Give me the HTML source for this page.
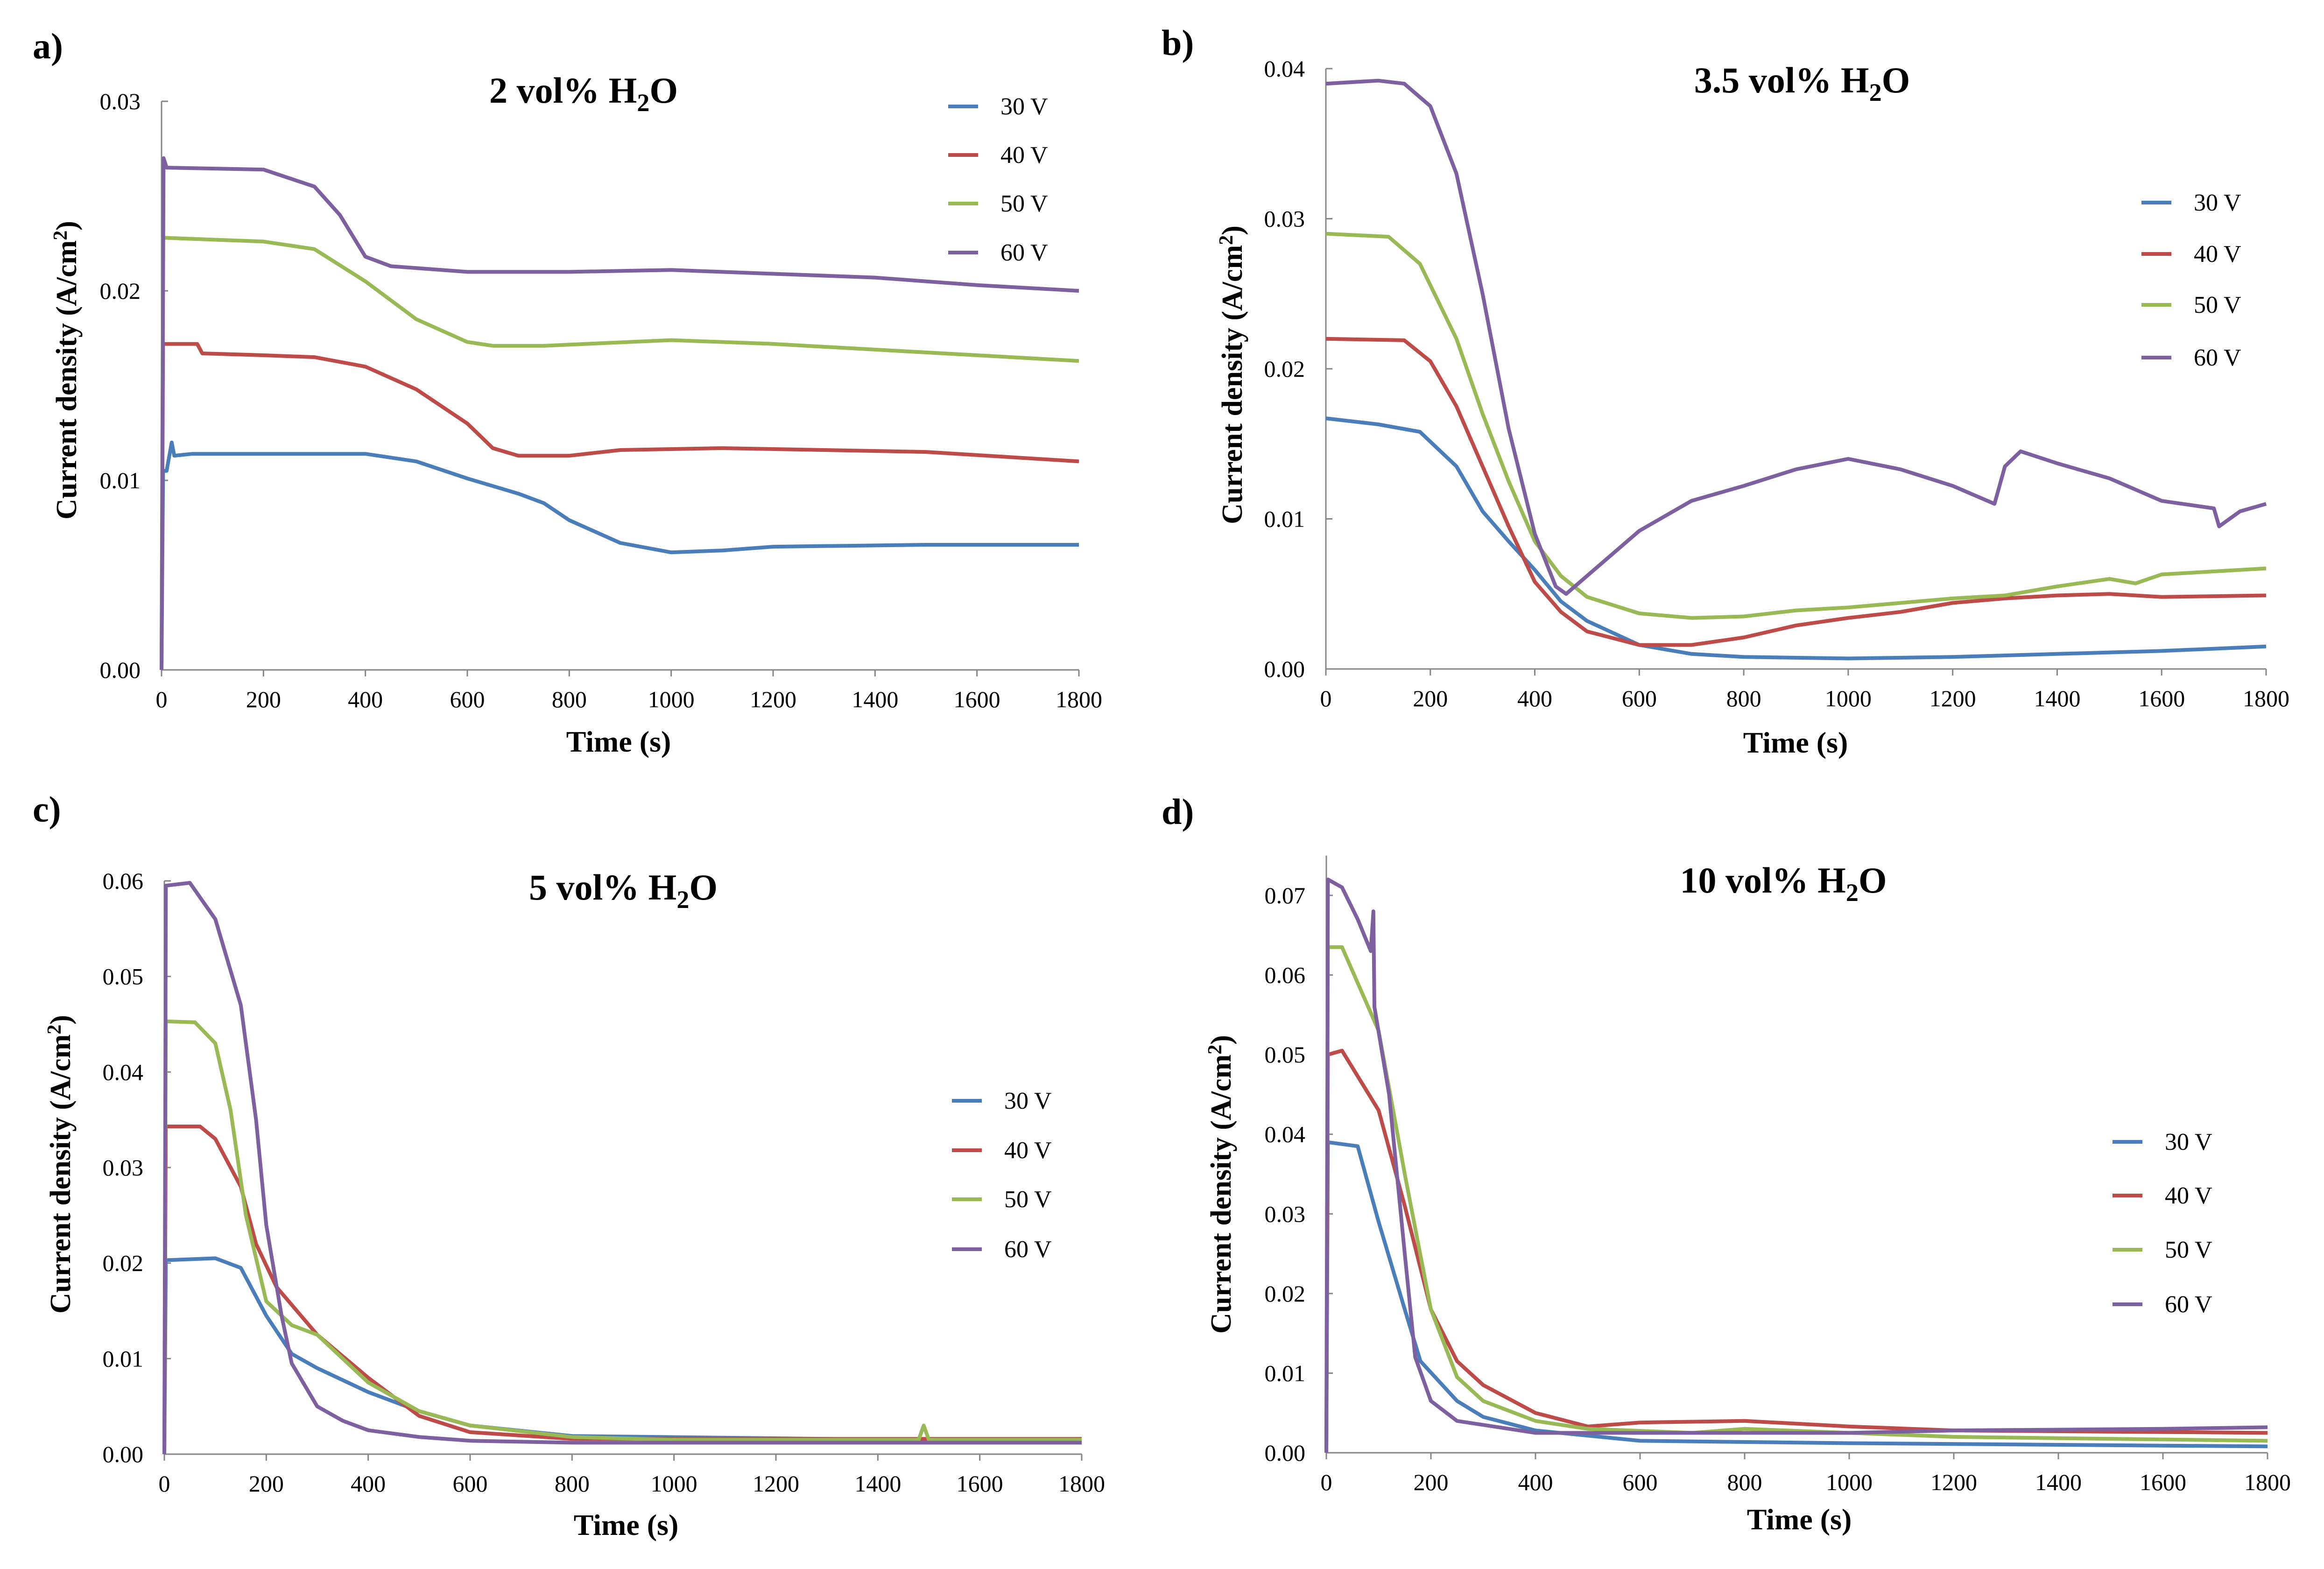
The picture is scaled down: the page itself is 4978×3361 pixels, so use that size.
<!DOCTYPE html>
<html><head><meta charset="utf-8"><style>
html,body{margin:0;padding:0;background:#fff}
svg{display:block}
text{font-family:"Liberation Serif","Times New Roman",serif;fill:#000}
</style></head><body>
<svg id="fig" width="4978" height="3361" viewBox="0 0 4978 3361" xmlns="http://www.w3.org/2000/svg"></svg>
<script>
// ---------- data (time in s, current density in A/cm2) ----------
const seriesNames = ["30 V","40 V","50 V","60 V"];
const seriesColors = ["#4a7ebb","#be4b48","#98b954","#7d60a0"];
const xTicks = [0,200,400,600,800,1000,1200,1400,1600,1800];

// panel a: 2 vol% H2O
const a30t = [0,3,10,20,25,60,200,400,500,600,700,750,800,900,1000,1100,1200,1500,1800];
const a30v = [0,0.0105,0.0105,0.012,0.0113,0.0114,0.0114,0.0114,0.011,0.0101,0.0093,0.0088,0.0079,0.0067,0.0062,0.0063,0.0065,0.0066,0.0066];
const a40t = [0,3,70,80,200,300,400,500,600,650,700,800,900,1100,1300,1500,1800];
const a40v = [0,0.0172,0.0172,0.0167,0.0166,0.0165,0.016,0.0148,0.013,0.0117,0.0113,0.0113,0.0116,0.0117,0.0116,0.0115,0.011];
const a50t = [0,3,200,300,400,500,600,650,750,1000,1200,1400,1600,1800];
const a50v = [0,0.0228,0.0226,0.0222,0.0205,0.0185,0.0173,0.0171,0.0171,0.0174,0.0172,0.0169,0.0166,0.0163];
const a60t = [0,4,10,200,300,350,400,450,600,800,1000,1200,1400,1600,1800];
const a60v = [0,0.027,0.0265,0.0264,0.0255,0.024,0.0218,0.0213,0.021,0.021,0.0211,0.0209,0.0207,0.0203,0.020];

// panel b: 3.5 vol% H2O
const b30t = [0,100,180,250,300,350,400,450,500,600,700,800,1000,1200,1400,1600,1800];
const b30v = [0.0167,0.0163,0.0158,0.0135,0.0105,0.0085,0.0066,0.0045,0.0032,0.0016,0.001,0.0008,0.0007,0.0008,0.001,0.0012,0.0015];
const b40t = [0,150,200,250,300,350,400,450,500,600,700,800,900,1000,1100,1200,1300,1400,1500,1600,1800];
const b40v = [0.022,0.0219,0.0205,0.0175,0.0135,0.0095,0.0058,0.0038,0.0025,0.0016,0.0016,0.0021,0.0029,0.0034,0.0038,0.0044,0.0047,0.0049,0.005,0.0048,0.0049];
const b50t = [0,120,180,250,300,350,400,450,500,600,700,800,900,1000,1200,1300,1400,1500,1550,1600,1800];
const b50v = [0.029,0.0288,0.027,0.022,0.017,0.0125,0.0085,0.0062,0.0048,0.0037,0.0034,0.0035,0.0039,0.0041,0.0047,0.0049,0.0055,0.006,0.0057,0.0063,0.0067];
const b60t = [0,100,150,200,250,300,350,400,440,460,500,600,700,800,900,1000,1100,1200,1280,1300,1330,1400,1500,1600,1700,1710,1750,1800];
const b60v = [0.039,0.0392,0.039,0.0375,0.033,0.025,0.016,0.009,0.0055,0.005,0.0062,0.0092,0.0112,0.0122,0.0133,0.014,0.0133,0.0122,0.011,0.0135,0.0145,0.0137,0.0127,0.0112,0.0107,0.0095,0.0105,0.011];

// panel c: 5 vol% H2O
const c30t = [0,3,100,150,200,250,300,400,500,600,800,1800];
const c30v = [0,0.0203,0.0205,0.0195,0.0145,0.0105,0.009,0.0065,0.0045,0.003,0.0019,0.0013];
const c40t = [0,3,70,100,150,180,220,300,400,500,600,800,1800];
const c40v = [0,0.0343,0.0343,0.033,0.028,0.022,0.0175,0.0125,0.008,0.004,0.0023,0.0016,0.0016];
const c50t = [0,3,60,100,130,160,200,250,300,400,500,600,800,1000,1480,1490,1500,1800];
const c50v = [0,0.0453,0.0452,0.043,0.036,0.025,0.016,0.0135,0.0125,0.0075,0.0045,0.003,0.0018,0.0015,0.0015,0.003,0.0015,0.0015];
const c60t = [0,3,50,100,150,180,200,230,250,300,350,400,500,600,800,1800];
const c60v = [0,0.0595,0.0598,0.056,0.047,0.035,0.024,0.0145,0.0095,0.005,0.0035,0.0025,0.0018,0.0014,0.0012,0.0012];

// panel d: 10 vol% H2O
const d30t = [0,3,60,100,150,180,250,300,400,600,1000,1800];
const d30v = [0,0.039,0.0385,0.029,0.018,0.0115,0.0065,0.0045,0.0028,0.0015,0.0012,0.0008];
const d40t = [0,3,30,100,150,200,250,300,400,500,600,800,1000,1200,1800];
const d40v = [0,0.05,0.0505,0.043,0.031,0.018,0.0115,0.0085,0.005,0.0033,0.0038,0.004,0.0033,0.0028,0.0025];
const d50t = [0,3,30,100,150,200,250,300,400,500,700,800,1000,1200,1800];
const d50v = [0,0.0635,0.0635,0.053,0.035,0.018,0.0095,0.0065,0.004,0.003,0.0025,0.003,0.0025,0.002,0.0015];
const d60t = [0,3,30,60,85,90,92,120,150,170,200,250,300,400,600,1000,1200,1600,1800];
const d60v = [0,0.072,0.071,0.067,0.063,0.068,0.056,0.045,0.025,0.012,0.0065,0.004,0.0035,0.0025,0.0025,0.0025,0.0028,0.003,0.0032];

// ---------- layout ----------
const panels = [
 {id:"a",label:"a)",lx:70,ly:125,title:"2 vol% H",tx:1250,ty:220,x0:346,x1:2311,yb:1435,yt:217,ymax:0.03,ytop:0.03,yTicks:[0,0.01,0.02,0.03],yf:2,
  legX:2031,legY:[228,332,436,541],xt:1325,xty:1610,yx:143,yy:793,
  data:[[a30t,a30v],[a40t,a40v],[a50t,a50v],[a60t,a60v]]},
 {id:"b",label:"b)",lx:2488,ly:118,title:"3.5 vol% H",tx:3860,ty:198,x0:2840,x1:4854,yb:1433,yt:147,ymax:0.04,ytop:0.04,yTicks:[0,0.01,0.02,0.03,0.04],yf:2,
  legX:4587,legY:[434,544,653,766],xt:3846,xty:1612,yx:2640,yy:803,
  data:[[b30t,b30v],[b40t,b40v],[b50t,b50v],[b60t,b60v]]},
 {id:"c",label:"c)",lx:70,ly:1760,title:"5 vol% H",tx:1335,ty:1927,x0:352,x1:2317,yb:3115,yt:1887,ymax:0.06,ytop:0.06,yTicks:[0,0.01,0.02,0.03,0.04,0.05,0.06],yf:2,
  legX:2039,legY:[2358,2464,2569,2676],xt:1341,xty:3288,yx:130,yy:2494,
  data:[[c30t,c30v],[c40t,c40v],[c50t,c50v],[c60t,c60v]]},
 {id:"d",label:"d)",lx:2488,ly:1765,title:"10 vol% H",tx:3820,ty:1912,x0:2841,x1:4857,yb:3112,yt:1918,ymax:0.07,ytop:0.075,yTicks:[0,0.01,0.02,0.03,0.04,0.05,0.06,0.07],yf:2,
  legX:4525,legY:[2446,2561,2677,2794],xt:3854,xty:3276,yx:2616,yy:2537,
  data:[[d30t,d30v],[d40t,d40v],[d50t,d50v],[d60t,d60v]]}
];

const NS="http://www.w3.org/2000/svg";
const svg=document.getElementById("fig");
function mk(tag,parent){const e=document.createElementNS(NS,tag);parent.appendChild(e);return e;}

panels.forEach(p=>{
  const g=mk("g",svg);
  
  
  const sx=t=>p.x0+(t/1800)*(p.x1-p.x0);
  const sy=v=>p.yb-(v/p.ymax)*(p.yb-p.yt);
  let t=mk("text",g);
  
  
  t.setAttribute("x",p.lx);t.setAttribute("y",p.ly);t.setAttribute("font-size","78");t.setAttribute("font-weight","bold");
  t.textContent=p.label;
  t=mk("text",g);
  
  
  t.setAttribute("x",p.tx);t.setAttribute("y",p.ty);t.setAttribute("font-size","78");t.setAttribute("font-weight","bold");t.setAttribute("text-anchor","middle");
  t.innerHTML=p.title+'<tspan dy="18" font-size="54">2</tspan><tspan dy="-18">O</tspan>';
  const ax=mk("path",g);
  
  
  const ytopPx=p.yb-(p.ytop/p.ymax)*(p.yb-p.yt);
  ax.setAttribute("d",`M${p.x0},${ytopPx}V${p.yb}H${p.x1}`);
  ax.setAttribute("stroke","#868686");ax.setAttribute("stroke-width","3");ax.setAttribute("fill","none");
  p.yTicks.forEach(v=>{
    const tk=mk("line",g);
    
    
    tk.setAttribute("x1",p.x0);tk.setAttribute("x2",p.x0+14);tk.setAttribute("y1",sy(v));tk.setAttribute("y2",sy(v));
    tk.setAttribute("stroke","#868686");tk.setAttribute("stroke-width","3");
    const lb=mk("text",g);
    
    
    lb.setAttribute("x",p.x0-45);lb.setAttribute("y",sy(v)+17);lb.setAttribute("font-size","50");lb.setAttribute("text-anchor","end");
    lb.textContent=v.toFixed(p.yf);
  });
  xTicks.forEach(v=>{
    const tk=mk("line",g);
    
    
    tk.setAttribute("x1",sx(v));tk.setAttribute("x2",sx(v));tk.setAttribute("y1",p.yb);tk.setAttribute("y2",p.yb+14);
    tk.setAttribute("stroke","#868686");tk.setAttribute("stroke-width","3");
    const lb=mk("text",g);
    
    
    lb.setAttribute("x",sx(v));lb.setAttribute("y",p.yb+80);lb.setAttribute("font-size","50");lb.setAttribute("text-anchor","middle");
    lb.textContent=v;
  });
  t=mk("text",g);
  
  
  t.setAttribute("x",p.xt);t.setAttribute("y",p.xty);t.setAttribute("font-size","64");t.setAttribute("font-weight","bold");t.setAttribute("text-anchor","middle");
  t.textContent="Time (s)";
  t=mk("text",g);
  
  
  t.setAttribute("x",0);t.setAttribute("y",0);t.setAttribute("font-size","62");t.setAttribute("font-weight","bold");t.setAttribute("text-anchor","middle");
  t.setAttribute("transform",`translate(${p.yx+20},${p.yy}) rotate(-90)`);
  t.innerHTML='Current density (A/cm<tspan dy="-20" font-size="42">2</tspan><tspan dy="20">)</tspan>';
  p.data.forEach((d,i)=>{
    const [ts,vs]=d;
    const pl=mk("polyline",g);
    
    
    pl.setAttribute("points",ts.map((tt,k)=>sx(tt).toFixed(1)+","+sy(vs[k]).toFixed(1)).join(" "));
    pl.setAttribute("fill","none");pl.setAttribute("stroke",seriesColors[i]);pl.setAttribute("stroke-width","8");pl.setAttribute("stroke-linejoin","round");
  });
  seriesNames.forEach((n,i)=>{
    const le=mk("line",g);
    
    
    le.setAttribute("x1",p.legX);le.setAttribute("x2",p.legX+64);le.setAttribute("y1",p.legY[i]);le.setAttribute("y2",p.legY[i]);
    le.setAttribute("stroke",seriesColors[i]);le.setAttribute("stroke-width","8");
    const lt=mk("text",g);
    
    
    lt.setAttribute("x",p.legX+112);lt.setAttribute("y",p.legY[i]+17);lt.setAttribute("font-size","52");
    lt.textContent=n;
  });
});
</script>
</body></html>
